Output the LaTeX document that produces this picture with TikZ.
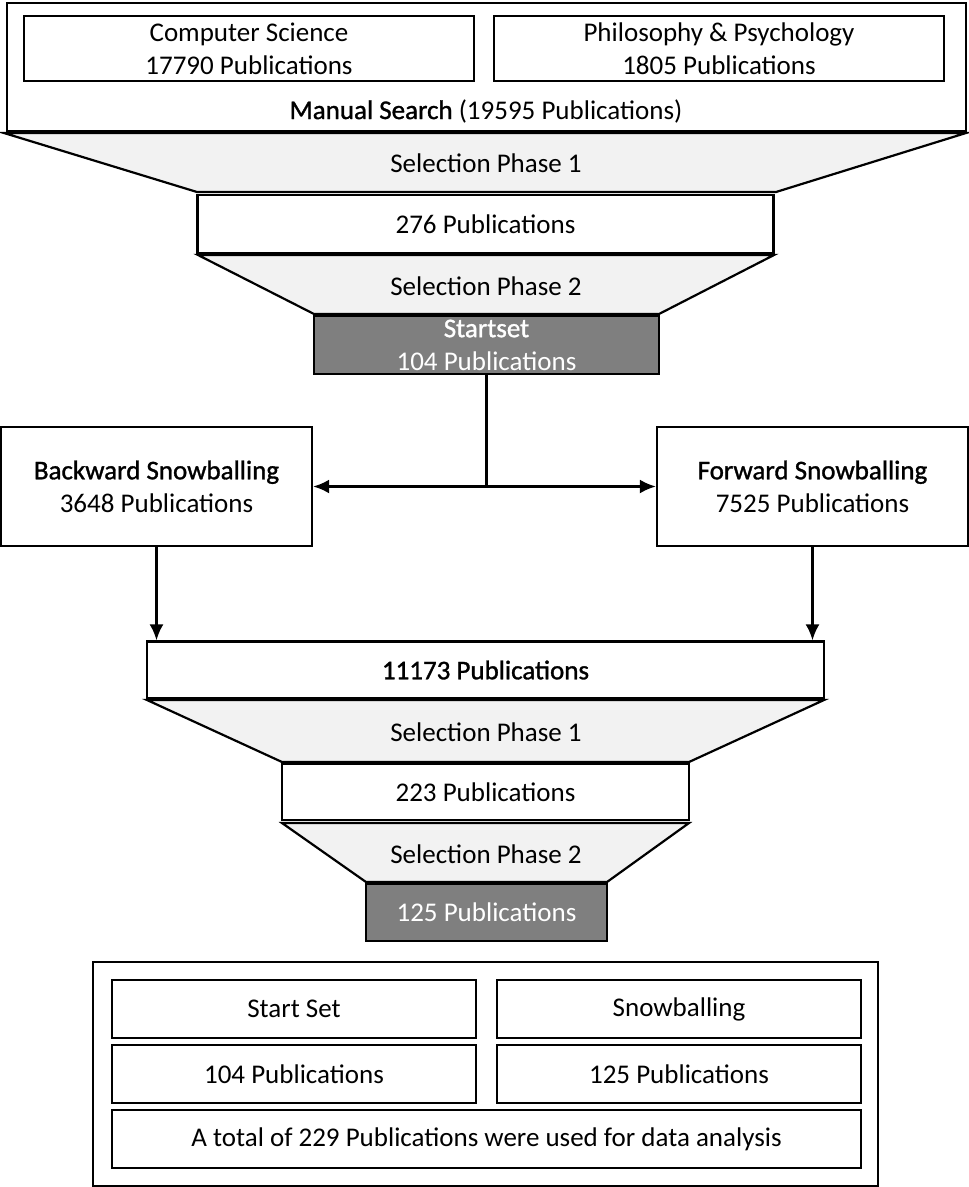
\documentclass[tikz,border=0pt]{standalone}
\usepackage{fontspec}
\setmainfont{Carlito}
\newfontfamily\strongfont[FakeBold=1.2]{Carlito}
\usetikzlibrary{arrows.meta, positioning}
\definecolor{funnelgray}{HTML}{F2F2F2}
\definecolor{boxgray}{HTML}{7F7F7F}

\begin{document}
\begin{tikzpicture}[
            x=1pt, y=-1pt,
            every node/.style={font=\fontsize{27}{33}\selectfont},
            pubbox/.style={draw, line width=2.2pt, fill=white, inner sep=0pt, align=center},
            darkbox/.style={pubbox, fill=boxgray, text=white},
            funnel/.style={draw, line width=2.2pt, fill=funnelgray},
            flow/.style={line width=2.6pt},
            flowarrow/.style={flow, -{Latex[length=16pt, width=14pt]}}
        ]
        \useasboundingbox (0, 0) rectangle (969, 1187);

        % manual search
        \node(search)[pubbox, minimum width=959, minimum height=128] at (486.5, 67) {};
        \node(cs)[pubbox, minimum width=450, minimum height=65] at (249, 48.5) {Computer Science\\17790 Publications};
        \node(phil)[pubbox, minimum width=450, minimum height=65] at (719, 48.5) {Philosophy \& Psychology\\1805 Publications};
        \node(searchLabel) at (486, 111) {{\strongfont Manual Search} (19595 Publications)};

        \draw[funnel] (4, 133) -- (966, 133) -- (776, 192) -- (197, 192) -- cycle;
        \node(phaseOneA) at (486, 163) {Selection Phase 1};
        \node(firstCut)[pubbox, minimum width=576, minimum height=58] at (485.5, 224) {276 Publications};
        \draw[funnel] (198, 255) -- (774, 255) -- (659, 314) -- (314, 314) -- cycle;
        \node(phaseTwoA) at (486, 286) {Selection Phase 2};
        \node(startset)[darkbox, minimum width=345, minimum height=58] at (486.5, 345) {{\strongfont Startset}\\104 Publications};

        % snowballing
        \node(backward)[pubbox, minimum width=311, minimum height=119] at (156.5, 486.5) {{\strongfont Backward Snowballing}\\3648 Publications};
        \node(forward)[pubbox, minimum width=311, minimum height=119] at (812.5, 486.5) {{\strongfont Forward Snowballing}\\7525 Publications};
        \coordinate(split) at (startset.south |- backward.east);
        \draw[flow] (startset.south) -- (split);
        \draw[flowarrow] (split) -- (backward.east);
        \draw[flowarrow] (split) -- (forward.west);

        \node(merged)[pubbox, minimum width=677, minimum height=57] at (485.5, 670) {\strongfont 11173 Publications};
        \draw[flowarrow] (backward.south) -- (backward.south |- merged.north);
        \draw[flowarrow] (forward.south) -- (forward.south |- merged.north);

        \draw[funnel] (147, 700) -- (824, 700) -- (689, 762) -- (282, 762) -- cycle;
        \node(phaseOneB) at (486, 732) {Selection Phase 1};
        \node(secondCut)[pubbox, minimum width=407, minimum height=56] at (485.5, 792) {223 Publications};
        \draw[funnel] (282, 823) -- (689, 823) -- (607, 882) -- (366, 882) -- cycle;
        \node(phaseTwoB) at (486, 854) {Selection Phase 2};
        \node(snowset)[darkbox, minimum width=241, minimum height=57] at (486.5, 912.5) {125 Publications};

        % summary
        \node(summary)[pubbox, minimum width=785, minimum height=224] at (485.5, 1074) {};
        \node(startLabel)[pubbox, minimum width=364, minimum height=58] at (294, 1009) {Start Set};
        \node(snowLabel)[pubbox, minimum width=364, minimum height=58] at (679, 1009) {Snowballing};
        \node(startCount)[pubbox, minimum width=364, minimum height=58] at (294, 1074) {104 Publications};
        \node(snowCount)[pubbox, minimum width=364, minimum height=58] at (679, 1074) {125 Publications};
        \node(total)[pubbox, minimum width=749, minimum height=58] at (486.5, 1139) {A total of 229 Publications were used for data analysis};
    \end{tikzpicture}
\end{document}
